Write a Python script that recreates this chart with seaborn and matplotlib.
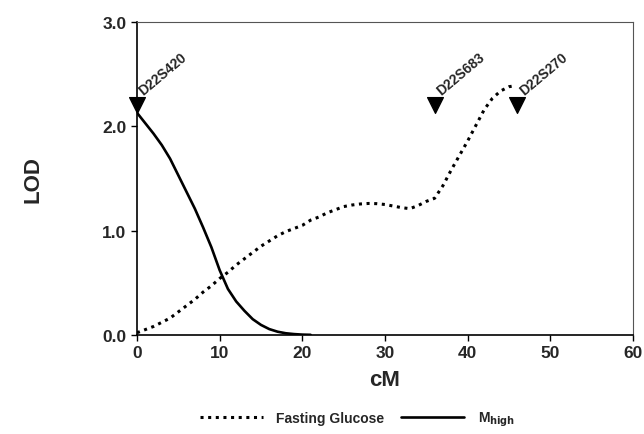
import numpy as np
import pandas as pd
import matplotlib
matplotlib.use("Agg")
import matplotlib.pyplot as plt
import seaborn as sns

# Data
glucose_cm = [0, 1, 2, 3, 4, 5, 6, 7, 8, 9, 10, 11, 12, 13, 14, 15, 16, 17, 18, 19,
              20, 21, 22, 23, 24, 25, 26, 27, 28, 29, 30, 31, 32, 33, 34, 35, 36,
              37, 38, 39, 40, 41, 42, 43, 44, 45, 45.8]
glucose_lod = [0.02, 0.05, 0.08, 0.12, 0.16, 0.22, 0.28, 0.34, 0.41, 0.47, 0.54, 0.60,
               0.67, 0.73, 0.79, 0.85, 0.90, 0.95, 0.99, 1.02, 1.05, 1.10, 1.13, 1.17,
               1.20, 1.23, 1.245, 1.255, 1.26, 1.258, 1.25, 1.235, 1.22, 1.21, 1.24,
               1.28, 1.31, 1.43, 1.58, 1.72, 1.86, 2.01, 2.16, 2.27, 2.34, 2.38, 2.39]

mhigh_cm = [0, 1, 2, 3, 4, 5, 6, 7, 8, 9, 10, 11, 12, 13, 14, 15, 16, 17, 18, 19, 20, 21]
mhigh_lod = [2.13, 2.03, 1.93, 1.82, 1.69, 1.53, 1.37, 1.21, 1.03, 0.84, 0.62, 0.44,
             0.32, 0.23, 0.15, 0.095, 0.055, 0.03, 0.015, 0.007, 0.002, 0.0]

marker_names = ["D22S420", "D22S683", "D22S270"]
marker_cm = [0, 36, 46]
marker_lod = [2.2, 2.2, 2.2]

x_ticks = [0, 10, 20, 30, 40, 50, 60]
y_ticks = [0.0, 1.0, 2.0, 3.0]

sns.set_style("ticks")
plt.rcParams["font.family"] = ["Liberation Sans", "DejaVu Sans"]
plt.rcParams["font.weight"] = "bold"

fig = plt.figure(figsize=(6.44, 4.35), dpi=100)
ax = fig.add_axes([0.2127, 0.228, 0.7703, 0.719])

df_g = pd.DataFrame({"cM": glucose_cm, "LOD": glucose_lod})
df_m = pd.DataFrame({"cM": mhigh_cm, "LOD": mhigh_lod})

sns.lineplot(data=df_g, x="cM", y="LOD", ax=ax, color="black", lw=2.2,
             linestyle=(0, (1.0, 1.5)), label="Fasting Glucose")
sns.lineplot(data=df_m, x="cM", y="LOD", ax=ax, color="black", lw=1.9,
             label="M$_{\\mathbf{high}}$")

df_mk = pd.DataFrame({"cM": marker_cm, "LOD": marker_lod})
sns.scatterplot(data=df_mk, x="cM", y="LOD", ax=ax, marker="v", s=130,
                color="black", edgecolor="black", zorder=5, legend=False, clip_on=False)
for name, xm, ym in zip(marker_names, marker_cm, marker_lod):
    ax.annotate(name, (xm, ym), xytext=(6, 6), textcoords="offset points",
                rotation=40, rotation_mode="anchor", ha="left", va="bottom",
                fontsize=10, fontweight="bold")

ax.set_xlim(0, 60)
ax.set_ylim(0, 3.0)
ax.set_xticks(x_ticks)
ax.set_yticks(y_ticks)
ax.set_yticklabels([f"{v:.1f}" for v in y_ticks])
ax.tick_params(axis="both", labelsize=12.5, length=4, width=1, direction="out", color="black")
for lab in ax.get_xticklabels() + ax.get_yticklabels():
    lab.set_fontweight("bold")

ax.set_xlabel("cM", fontsize=16, fontweight="bold", labelpad=6)
ax.set_ylabel("LOD", fontsize=16, fontweight="bold", labelpad=42)

for side in ["left", "bottom"]:
    ax.spines[side].set_color("black")
    ax.spines[side].set_linewidth(1.2)
for side in ["top", "right"]:
    ax.spines[side].set_color("#555555")
    ax.spines[side].set_linewidth(0.8)

handles, labels = ax.get_legend_handles_labels()
ax.get_legend().remove()
fig.legend(handles, labels, loc="center", bbox_to_anchor=(0.555, 0.035), ncol=2,
           frameon=False, handlelength=4.5, columnspacing=1.2, handletextpad=1.0,
           prop={"weight": "bold", "size": 10})

fig.savefig("out.png", dpi=100)
